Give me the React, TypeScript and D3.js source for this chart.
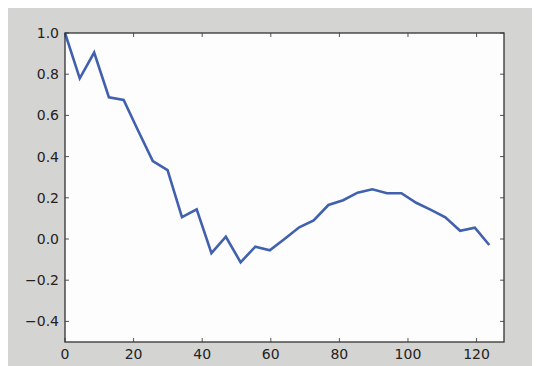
import React, { useEffect, useRef } from 'react';
import * as d3 from 'd3';

// lag positions and autocorrelation values
const lags = [0, 4.3, 8.5, 12.8, 17.1, 21.3, 25.6, 29.9, 34.1, 38.4, 42.7, 46.9, 51.2, 55.5, 59.7,
  64, 68.3, 72.5, 76.8, 81.1, 85.3, 89.6, 93.9, 98.1, 102.4, 106.7, 110.9, 115.2, 119.5, 123.7];
const acf = [1.0, 0.78, 0.905, 0.688, 0.675, 0.527, 0.378, 0.334, 0.106, 0.144, -0.069, 0.011, -0.113, -0.037, -0.055,
  0.0, 0.057, 0.09, 0.165, 0.188, 0.225, 0.241, 0.222, 0.222, 0.176, 0.141, 0.105, 0.04, 0.055, -0.029];
const xTicks = [0, 20, 40, 60, 80, 100, 120];
const yTicks = [-0.4, -0.2, 0.0, 0.2, 0.4, 0.6, 0.8, 1.0];

const App = () => {
  const ref = useRef<SVGSVGElement | null>(null);

  useEffect(() => {
    const width = 540, height = 366;
    const margin = { top: 25, right: 44, bottom: 32, left: 57 };
    const svg = d3.select(ref.current);
    svg.selectAll('*').remove();

    svg.append('rect').attr('width', width).attr('height', height).attr('fill', '#d4d4d2');

    const x = d3.scaleLinear().domain([0, 128]).range([margin.left, width - margin.right]);
    const y = d3.scaleLinear().domain([-0.5, 1.0]).range([height - margin.bottom, margin.top]);

    const [x0, x1] = x.range();
    const [y0, y1] = y.range();

    svg.append('rect')
      .attr('x', x0).attr('y', y1)
      .attr('width', x1 - x0).attr('height', y0 - y1)
      .attr('fill', '#fdfdfd');

    const fmt = (v: number) => d3.format('.1f')(v).replace('-', '\u2212');
    const font = '"DejaVu Sans", sans-serif';
    const tickLen = 4;
    const tickColor = '#555';

    // x ticks (inward, top and bottom)
    const gx = svg.append('g');
    xTicks.forEach(t => {
      gx.append('line').attr('x1', x(t)).attr('x2', x(t)).attr('y1', y0).attr('y2', y0 - tickLen)
        .attr('stroke', tickColor);
      gx.append('line').attr('x1', x(t)).attr('x2', x(t)).attr('y1', y1).attr('y2', y1 + tickLen)
        .attr('stroke', tickColor);
      gx.append('text').attr('x', x(t)).attr('y', y0 + 17)
        .attr('text-anchor', 'middle').attr('font-family', font).attr('font-size', 14)
        .attr('fill', '#222').text(t);
    });

    // y ticks (inward, left and right)
    const gy = svg.append('g');
    yTicks.forEach(t => {
      gy.append('line').attr('x1', x0).attr('x2', x0 + tickLen).attr('y1', y(t)).attr('y2', y(t))
        .attr('stroke', tickColor);
      gy.append('line').attr('x1', x1).attr('x2', x1 - tickLen).attr('y1', y(t)).attr('y2', y(t))
        .attr('stroke', tickColor);
      gy.append('text').attr('x', x0 - 6).attr('y', y(t)).attr('dy', '0.35em')
        .attr('text-anchor', 'end').attr('font-family', font).attr('font-size', 14)
        .attr('fill', '#222').text(fmt(t));
    });

    const line = d3.line<number>()
      .x((_, i) => x(lags[i]))
      .y(d => y(d));

    svg.append('path')
      .datum(acf)
      .attr('d', line)
      .attr('fill', 'none')
      .attr('stroke', '#4160ae')
      .attr('stroke-width', 2.6)
      .attr('stroke-linejoin', 'miter');

    svg.append('rect')
      .attr('x', x0).attr('y', y1)
      .attr('width', x1 - x0).attr('height', y0 - y1)
      .attr('fill', 'none').attr('stroke', '#333').attr('stroke-width', 1.3);
  }, []);

  return <svg ref={ref} width={540} height={366} style={{ display: 'block' }} />;
};

export default App;
